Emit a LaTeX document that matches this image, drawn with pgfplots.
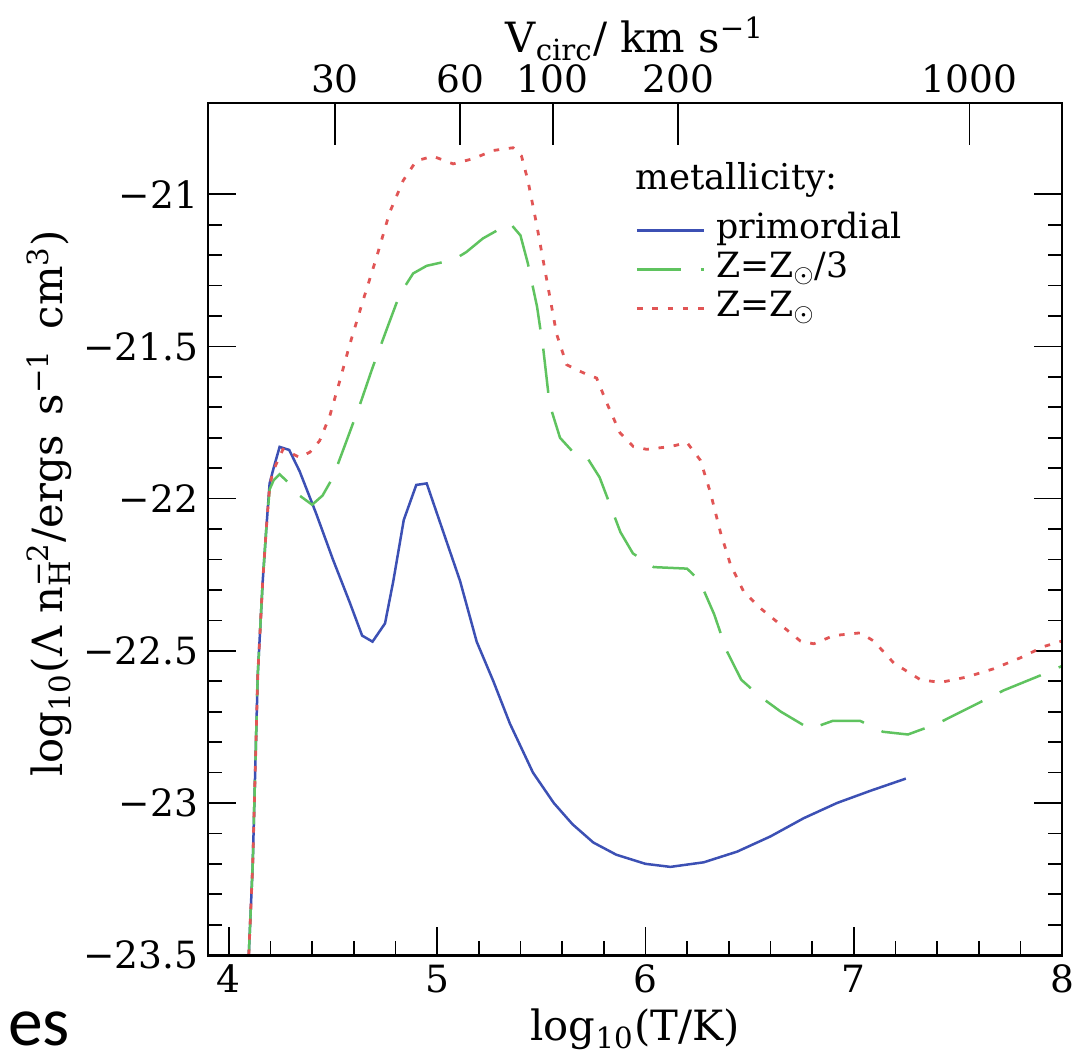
\documentclass[border=0pt]{standalone}
\usepackage{pgfplots}
\pgfplotsset{compat=1.18}
\usepackage{fontspec}
\setmainfont{DejaVu Serif}
\newfontfamily\esfont{Carlito}
\definecolor{cblue}{RGB}{60,80,180}
\definecolor{cgreen}{RGB}{95,195,95}
\definecolor{cred}{RGB}{225,85,85}
\begin{document}
\begin{tikzpicture}
\begin{axis}[
  width=307.2pt, height=306.5pt, scale only axis,
  xmin=3.9, xmax=8, ymin=-23.5, ymax=-20.7,
  xtick={4,5,6,7,8}, xticklabels={4,5,6,7,8},
  minor x tick num=4,
  ytick={-23.5,-23,-22.5,-22,-21.5,-21},
  yticklabels={−23.5,−23,−22.5,−22,−21.5,−21},
  minor y tick num=4,
  tick align=inside,
  xtick pos=left, ytick pos=both,
  major tick length=10pt, minor tick length=5pt,
  axis line style={line width=1pt},
  every tick/.append style={line width=0.6pt, black},
  ticklabel style={font=\fontsize{13.5}{16}\selectfont},
  xlabel={log\textsubscript{10}(T/K)},
  xlabel style={font=\fontsize{15}{18}\selectfont, at={(axis description cs:0.5,-0.1)}, anchor=base},
  ylabel={log\textsubscript{10}(Λ n\rlap{\textsubscript{H}}\textsuperscript{−2}/ergs\, s\textsuperscript{−1}\, cm\textsuperscript{3})},
  ylabel style={font=\fontsize{15}{18}\selectfont, at={(axis description cs:-0.170,0.53)}, anchor=base, rotate=0},
  legend style={at={(rel axis cs:0.5,0.874)}, anchor=north west, draw=none, fill=none,
    font=\fontsize{12.5}{14}\selectfont, row sep=0pt, column sep=3pt, inner sep=0pt,
    nodes={inner sep=1pt, text height=9pt, text depth=3pt}},
  legend cell align=left,
  legend image code/.code={\draw[#1] (0pt,0pt) -- (24pt,0pt);},
]
\addplot[cblue, line width=0.9pt] coordinates {
(4.085,-23.7) (4.096,-23.5) (4.115,-23.2) (4.139,-22.58) (4.163,-22.27) (4.18,-22.1)
(4.196,-21.95) (4.215,-21.90) (4.244,-21.83) (4.29,-21.84) (4.34,-21.91) (4.42,-22.05)
(4.50,-22.20) (4.58,-22.34) (4.64,-22.45) (4.69,-22.47) (4.75,-22.41) (4.79,-22.27)
(4.84,-22.07) (4.90,-21.955) (4.95,-21.95) (5.01,-22.07) (5.11,-22.27) (5.19,-22.47)
(5.27,-22.60) (5.35,-22.74) (5.46,-22.90) (5.56,-23.00) (5.65,-23.07) (5.75,-23.13)
(5.86,-23.17) (6.00,-23.20) (6.12,-23.21) (6.28,-23.195) (6.44,-23.16) (6.60,-23.11)
(6.76,-23.05) (6.92,-23.00) (7.08,-22.96) (7.25,-22.92)
};
\addlegendentry{primordial}
\addplot[cgreen, line width=0.9pt, dash pattern=on 16pt off 7pt] coordinates {
(4.085,-23.7) (4.096,-23.5) (4.115,-23.2) (4.139,-22.58) (4.163,-22.27) (4.18,-22.1)
(4.196,-21.97) (4.215,-21.94) (4.244,-21.92) (4.29,-21.95) (4.34,-21.99) (4.40,-22.02)
(4.45,-21.99) (4.50,-21.93) (4.56,-21.82) (4.63,-21.69) (4.69,-21.57) (4.76,-21.44)
(4.82,-21.33) (4.885,-21.26) (4.95,-21.235) (5.08,-21.215) (5.14,-21.19) (5.22,-21.145)
(5.35,-21.095) (5.40,-21.135) (5.435,-21.225) (5.48,-21.37) (5.51,-21.51) (5.54,-21.69)
(5.59,-21.80) (5.65,-21.845) (5.72,-21.865) (5.78,-21.93) (5.83,-22.02) (5.88,-22.11)
(5.94,-22.18) (6.04,-22.225) (6.2,-22.23) (6.26,-22.27) (6.33,-22.38) (6.39,-22.50)
(6.46,-22.595) (6.55,-22.65) (6.65,-22.70) (6.79,-22.757) (6.90,-22.73) (7.03,-22.73)
(7.14,-22.766) (7.26,-22.775) (7.40,-22.74) (7.56,-22.685) (7.72,-22.63) (7.91,-22.577)
(8.0,-22.55)
};
\addlegendentry{Z=Z\textsubscript{$\odot$}/3}
\addplot[cred, line width=1pt, dash pattern=on 2pt off 3.5pt] coordinates {
(4.085,-23.7) (4.096,-23.5) (4.115,-23.2) (4.139,-22.58) (4.163,-22.27) (4.18,-22.1)
(4.196,-21.96) (4.212,-21.91) (4.26,-21.838) (4.29,-21.847) (4.34,-21.865) (4.39,-21.847)
(4.436,-21.81) (4.484,-21.73) (4.53,-21.62) (4.58,-21.495) (4.644,-21.35) (4.708,-21.21)
(4.772,-21.06) (4.837,-20.955) (4.90,-20.89) (4.98,-20.875) (5.077,-20.90) (5.173,-20.883)
(5.27,-20.856) (5.365,-20.847) (5.405,-20.874) (5.436,-20.955) (5.478,-21.10) (5.526,-21.28)
(5.574,-21.46) (5.622,-21.56) (5.70,-21.586) (5.766,-21.604) (5.814,-21.685) (5.878,-21.784)
(5.942,-21.829) (6.006,-21.838) (6.12,-21.829) (6.2,-21.816) (6.264,-21.874) (6.312,-21.98)
(6.36,-22.11) (6.408,-22.216) (6.472,-22.306) (6.552,-22.36) (6.648,-22.414) (6.744,-22.468)
(6.808,-22.477) (6.904,-22.45) (7.032,-22.441) (7.096,-22.468) (7.192,-22.54) (7.32,-22.595)
(7.416,-22.604) (7.544,-22.586) (7.672,-22.559) (7.8,-22.523) (7.912,-22.486) (8.0,-22.468)
};
\addlegendentry{Z=Z\textsubscript{$\odot$}}
\node[anchor=base west, inner sep=0pt, font=\fontsize{12.8}{14}\selectfont] at (rel axis cs:0.5,0.898) {metallicity:};
\end{axis}
\begin{axis}[
  width=307.2pt, height=306.5pt, scale only axis,
  xmin=3.9, xmax=8, ymin=0, ymax=1,
  xtick={4.5093,5.1114,5.5551,6.1572,7.5551},
  xticklabels={30,60,100,200,1000},
  xtick pos=right, xticklabel pos=right,
  ytick=\empty, minor tick num=0,
  tick align=inside, major tick length=15pt,
  axis line style={line width=1pt},
  every tick/.append style={line width=0.6pt, black},
  ticklabel style={font=\fontsize{13.5}{16}\selectfont},
  xlabel={V\textsubscript{circ}/ km s\textsuperscript{−1}},
  xlabel style={font=\fontsize{15}{18}\selectfont, at={(axis description cs:0.5,1.059)}, anchor=base},
]
\end{axis}
\node[anchor=base west, inner sep=0pt, font=\esfont\fontsize{25}{30}\selectfont] at (-72pt,-32.4pt) {es};
\path[use as bounding box] (-74.8pt,-35.25pt) rectangle (315.1pt,343.55pt);
\end{tikzpicture}
\end{document}
